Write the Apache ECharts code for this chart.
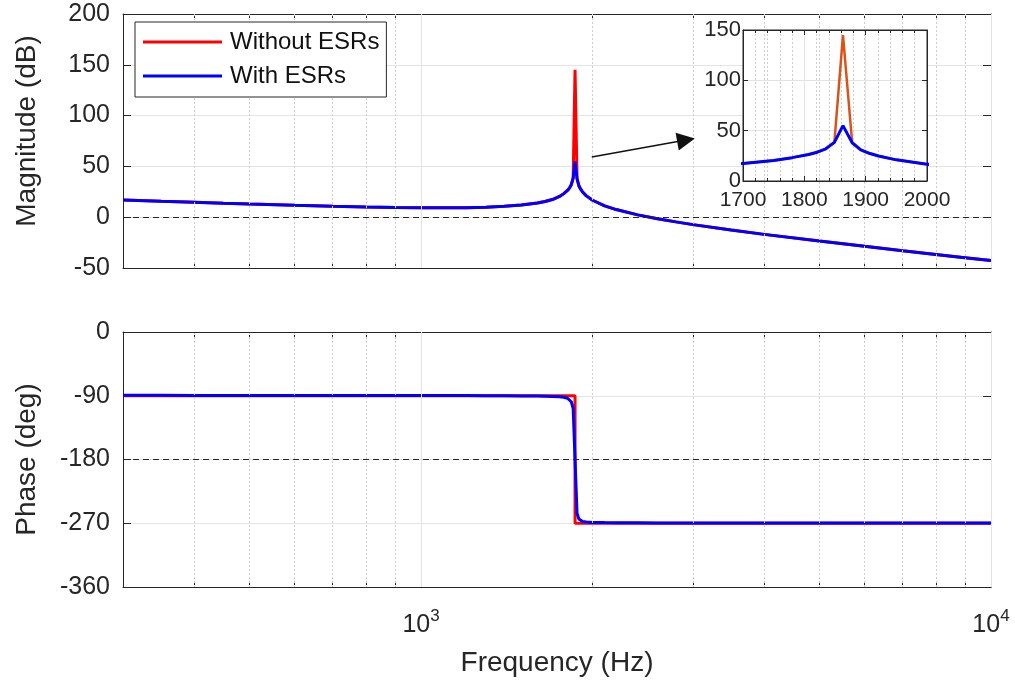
<!DOCTYPE html>
<html>
<head>
<meta charset="utf-8">
<title>Bode plot with and without ESRs</title>
<script src="https://cdn.jsdelivr.net/npm/echarts@6/dist/echarts.min.js"></script>
<style>
  html, body { margin: 0; padding: 0; background: #ffffff; }
  #chart { width: 1015px; height: 686px; }
</style>
</head>
<body>
<div id="chart"></div>
<script>
// ---- frequency response samples ----
const freqHz = [300, 350, 400, 450, 500, 600, 700, 800, 900, 1000,
  1100, 1200, 1300, 1400, 1500, 1600, 1650, 1700, 1750, 1780,
  1807, 1821, 1835, 1849, 1863, 1878, 1892, 1907, 1921, 1950,
  2000, 2100, 2200, 2400, 2600, 2800, 3000, 3500, 4000, 5000,
  6000, 7000, 8000, 9000, 10000];

// Magnitude without ESRs (undamped resonance)
const magNoEsrDb = [17.0, 15.7, 14.7, 13.8, 13.0, 11.7, 10.7, 10.0, 9.5, 9.3,
  9.2, 9.4, 9.9, 10.7, 11.9, 13.9, 15.4, 17.4, 20.4, 23.2,
  26.3, 28.6, 32.0, 38.4, 145.0, 38.0, 31.0, 27.3, 24.8, 21.0,
  16.7, 11.1, 7.5, 2.3, -1.5, -4.6, -7.3, -12.6, -16.9, -23.5,
  -28.7, -33.0, -36.6, -39.8, -42.6];

// Magnitude with ESRs (damped resonance)
const magEsrDb = [17.0, 15.7, 14.7, 13.8, 13.0, 11.7, 10.7, 10.0, 9.5, 9.3,
  9.2, 9.4, 9.9, 10.7, 11.9, 13.9, 15.4, 17.4, 20.4, 23.2,
  26.3, 28.6, 32.0, 38.4, 55.0, 38.0, 31.0, 27.3, 24.8, 21.0,
  16.7, 11.1, 7.5, 2.3, -1.5, -4.6, -7.3, -12.6, -16.9, -23.5,
  -28.7, -33.0, -36.6, -39.8, -42.6];

// Phase with ESRs
const phaseEsrDeg = [-89.4, -89.4, -89.5, -89.5, -89.5, -89.6, -89.6, -89.6, -89.7, -89.7,
  -89.8, -89.8, -89.9, -90.0, -90.2, -90.4, -90.6, -90.9, -91.5, -92.2,
  -93.5, -95.0, -98.5, -108.0, -180.0, -256.0, -264.0, -266.5, -267.5, -268.3,
  -268.8, -269.1, -269.3, -269.4, -269.5, -269.5, -269.6, -269.6, -269.7, -269.7,
  -269.7, -269.8, -269.8, -269.8, -269.8];

// Phase without ESRs: ideal step at the resonance frequency
const phaseNoEsrFreqHz = [300, 1863, 1863, 10000];
const phaseNoEsrDeg = [-90, -90, -270, -270];

// ---- axis ticks ----
const decadeTicksHz = [1000, 10000];
const minorTicksHz = [400, 500, 600, 700, 800, 900, 2000, 3000, 4000, 5000, 6000, 7000, 8000, 9000];
const magTicksDb = [-50, 0, 50, 100, 150, 200];
const phaseTicksDeg = [-360, -270, -180, -90, 0];
const zoomTicksHz = [1700, 1800, 1900, 2000];
const zoomTicksDb = [0, 50, 100, 150];

// Reference levels and annotation arrow (data units)
const magRefDb = 0;
const phaseRefDeg = -180;
const arrowFrom = [1993, 59.3];
const arrowTo = [2917, 76.0];

const seriesNames = ['Without ESRs', 'With ESRs'];

// ---- styling ----
const FONT = "'Liberation Sans', Arial, Helvetica, sans-serif";
const INK = '#262626';
const GRID_MAJOR = '#e3e3e3';
const GRID_MINOR = '#cfcfcf';

const pairs = (xs, ys) => xs.map((x, i) => [x, ys[i]]);

const logTickValues = minorTicksHz.concat(decadeTicksHz).sort((a, b) => a - b);

function decadeLabel(v) {
  const e = Math.round(Math.log10(v));
  if (decadeTicksHz.indexOf(Math.pow(10, e)) < 0) return '';
  if (Math.abs(Math.pow(10, e) - v) > 1e-6 * v) return '';
  return '{b|10}{s|' + e + '}';
}

function logAxis(gridIndex, position, withLabels, name) {
  return {
    type: 'log', logBase: 10, gridIndex: gridIndex, position: position,
    min: 300, max: 10000,
    name: name || '', nameLocation: 'middle', nameGap: 62,
    nameTextStyle: { fontFamily: FONT, fontSize: 28, color: INK },
    axisLine: { show: true, onZero: false, lineStyle: { color: INK, width: 1 } },
    axisTick: { show: true, inside: true, length: 6, customValues: logTickValues,
      lineStyle: { color: INK, width: 1 } },
    axisLabel: {
      show: withLabels, margin: 21, formatter: decadeLabel,
      customValues: decadeTicksHz,
      rich: {
        b: { fontFamily: FONT, fontSize: 25, color: INK, lineHeight: 30, verticalAlign: 'bottom' },
        s: { fontFamily: FONT, fontSize: 17, color: INK, lineHeight: 17, verticalAlign: 'top' }
      }
    },
    splitLine: { show: false },
    minorTick: { show: false },
    z: 1
  };
}

function valueYAxis(gridIndex, position, ticks, withLabels, name, namePadding) {
  return {
    type: 'value', gridIndex: gridIndex, position: position,
    min: ticks[0], max: ticks[ticks.length - 1], interval: ticks[1] - ticks[0],
    name: name || '', nameLocation: 'middle', nameGap: 82,
    nameTextStyle: { fontFamily: FONT, fontSize: 28, color: INK, padding: namePadding || 0 },
    axisLine: { show: true, onZero: false, lineStyle: { color: INK, width: 1 } },
    axisTick: { show: true, inside: true, length: 8, lineStyle: { color: INK, width: 1 } },
    axisLabel: { show: withLabels, margin: 13, fontFamily: FONT, fontSize: 25, color: INK },
    splitLine: { show: position === 'left', lineStyle: { color: GRID_MAJOR, width: 1 } },
    z: 1
  };
}

// Vertical grid lines of the log frequency axis
function freqGridLines() {
  const lines = minorTicksHz.map(f => ({ xAxis: f,
    lineStyle: { color: GRID_MINOR, width: 1, type: [2, 2] } }));
  decadeTicksHz.forEach(f => lines.push({ xAxis: f,
    lineStyle: { color: GRID_MAJOR, width: 1, type: 'solid' } }));
  return lines;
}

function guideSeries(xIdx, yIdx, refLevel) {
  const data = freqGridLines();
  data.push({ yAxis: refLevel, lineStyle: { color: INK, width: 1.2, type: [6, 4] } });
  return {
    type: 'line', name: 'guides', xAxisIndex: xIdx, yAxisIndex: yIdx, data: [],
    silent: true, z: 1,
    markLine: { silent: true, symbol: 'none', label: { show: false },
      emphasis: { disabled: true }, animation: false, data: data }
  };
}

function curve(name, xIdx, yIdx, data, color, width, z) {
  return {
    type: 'line', name: name, xAxisIndex: xIdx, yAxisIndex: yIdx,
    data: data, showSymbol: false, symbol: 'none', smooth: false,
    lineStyle: { color: color, width: width }, itemStyle: { color: color },
    emphasis: { disabled: true }, clip: true, z: z
  };
}

const zoomX = (position, withLabels) => ({
  type: 'value', gridIndex: 2, position: position,
  min: zoomTicksHz[0], max: zoomTicksHz[zoomTicksHz.length - 1],
  interval: zoomTicksHz[1] - zoomTicksHz[0],
  axisLine: { show: true, onZero: false, lineStyle: { color: INK, width: 1 } },
  axisTick: { show: true, inside: true, length: 5, lineStyle: { color: INK } },
  minorTick: { show: true, splitNumber: 5, length: 3, lineStyle: { color: INK } },
  axisLabel: { show: withLabels, margin: 9, fontFamily: FONT, fontSize: 21, color: INK,
    formatter: v => String(v) },
  splitLine: { show: position === 'bottom', lineStyle: { color: GRID_MAJOR } },
  minorSplitLine: { show: position === 'bottom', lineStyle: { color: GRID_MINOR, type: [2, 2] } },
  z: 6
});

const zoomY = (position, withLabels) => ({
  type: 'value', gridIndex: 2, position: position,
  min: zoomTicksDb[0], max: zoomTicksDb[zoomTicksDb.length - 1],
  interval: zoomTicksDb[1] - zoomTicksDb[0],
  axisLine: { show: true, onZero: false, lineStyle: { color: INK, width: 1 } },
  axisTick: { show: true, inside: true, length: 5, lineStyle: { color: INK } },
  axisLabel: { show: withLabels, margin: 2, fontFamily: FONT, fontSize: 22, color: INK,
    formatter: v => String(v) },
  splitLine: { show: position === 'left', lineStyle: { color: GRID_MAJOR } },
  z: 6
});

const option = {
  animation: false,
  backgroundColor: '#ffffff',
  textStyle: { fontFamily: FONT },
  grid: [
    { left: 123, right: 24, top: 14, height: 254, show: false },
    { left: 123, right: 24, top: 332, height: 255, show: false },
    { left: 743, top: 30, width: 184, height: 151, show: true,
      backgroundColor: '#ffffff', borderColor: INK, borderWidth: 1, z: 5 }
  ],
  xAxis: [
    logAxis(0, 'bottom', false),
    logAxis(0, 'top', false),
    logAxis(1, 'bottom', true, 'Frequency (Hz)'),
    logAxis(1, 'top', false),
    zoomX('bottom', true),
    zoomX('top', false)
  ],
  yAxis: [
    valueYAxis(0, 'left', magTicksDb, true, 'Magnitude (dB)', [0, 0, 0, 20]),
    valueYAxis(0, 'right', magTicksDb, false),
    valueYAxis(1, 'left', phaseTicksDeg, true, 'Phase (deg)'),
    valueYAxis(1, 'right', phaseTicksDeg, false),
    zoomY('left', true),
    zoomY('right', false)
  ],
  legend: {
    data: seriesNames.map(n => ({ name: n, icon: 'rect' })),
    orient: 'vertical',
    left: 135, top: 22,
    padding: [8, 7, 9, 8],
    itemGap: 10, itemWidth: 79, itemHeight: 3,
    backgroundColor: '#ffffff', borderColor: INK, borderWidth: 1, borderRadius: 0,
    textStyle: { fontFamily: FONT, fontSize: 24, color: '#111111', lineHeight: 23,
      padding: [0, 0, 0, 3] },
    selectedMode: false,
    z: 8
  },
  series: [
    guideSeries(0, 0, magRefDb),
    guideSeries(2, 2, phaseRefDeg),
    curve(seriesNames[0], 0, 0, pairs(freqHz, magNoEsrDb), '#ff0000', 3, 2),
    curve(seriesNames[1], 0, 0, pairs(freqHz, magEsrDb), '#0000ff', 3, 3),
    curve(seriesNames[0], 2, 2, pairs(phaseNoEsrFreqHz, phaseNoEsrDeg), '#ff0000', 3, 2),
    curve(seriesNames[1], 2, 2, pairs(freqHz, phaseEsrDeg), '#0000ff', 3, 3),
    curve(seriesNames[0], 4, 4, pairs(freqHz, magNoEsrDb), '#d95319', 2.5, 7),
    curve(seriesNames[1], 4, 4, pairs(freqHz, magEsrDb), '#0000ff', 3, 8),
    {
      // annotation arrow pointing at the zoomed view
      type: 'line', name: 'arrow', xAxisIndex: 0, yAxisIndex: 0, data: [],
      silent: true, z: 4,
      markLine: {
        silent: true, symbol: ['none', 'triangle'], symbolSize: 18,
        label: { show: false }, emphasis: { disabled: true },
        lineStyle: { color: '#111111', width: 1.5, type: 'solid' },
        data: [[{ coord: arrowFrom }, { coord: arrowTo }]]
      }
    }
  ]
};

const chart = echarts.init(document.getElementById('chart'), null, { renderer: 'canvas' });
chart.setOption(option);
</script>
</body>
</html>
